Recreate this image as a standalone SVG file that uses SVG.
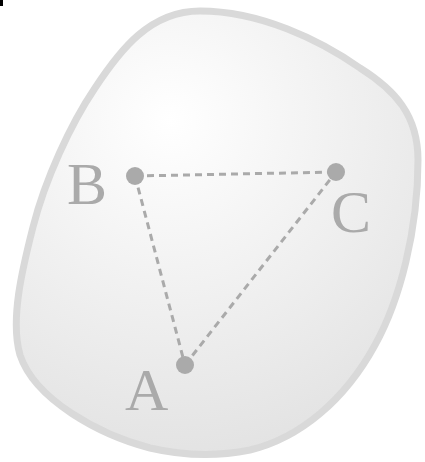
<svg xmlns="http://www.w3.org/2000/svg" width="425" height="462" viewBox="0 0 425 462">
  <defs>
    <radialGradient id="bg" cx="170" cy="120" r="340" gradientUnits="userSpaceOnUse">
      <stop offset="0" stop-color="#ffffff"/>
      <stop offset="1" stop-color="#e3e3e3"/>
    </radialGradient>
  </defs>
  <style>
    text { font-family: "Times New Roman", "Liberation Serif", Times, serif; font-size: 60px; fill: #aaaaaa; }
    .pt { fill: #aaaaaa; }
    .edge { stroke: #aaaaaa; stroke-width: 3; stroke-dasharray: 7 5; fill: none; }
  </style>
  <rect x="0" y="0" width="3" height="6" fill="#000000"/>
  <g id="region">
    <path d="M200,11 C150,11 120,50 95,88 C70,125 45,180 33,227 C22,270 10,320 20,355 C35,400 100,435 150,448 C180,455 215,457 250,450 C300,438 345,400 375,345 C400,300 418,230 418,160 C418,115 395,90 360,68 C320,40 260,11 200,11 Z" fill="url(#bg)" stroke="#d9d9d9" stroke-width="7"/>
  </g>
  <g id="connectors">
    <line class="edge" x1="135" y1="176" x2="336" y2="172"/>
    <line class="edge" x1="135" y1="176" x2="185" y2="365"/>
    <line class="edge" x1="185" y1="365" x2="336" y2="172"/>
  </g>
  <g id="A"><circle class="pt" cx="185" cy="365" r="9"/><text x="125" y="410">A</text></g>
  <g id="B"><circle class="pt" cx="135" cy="176" r="9"/><text x="67" y="204">B</text></g>
  <g id="C"><circle class="pt" cx="336" cy="172" r="9"/><text x="331" y="232">C</text></g>
</svg>
